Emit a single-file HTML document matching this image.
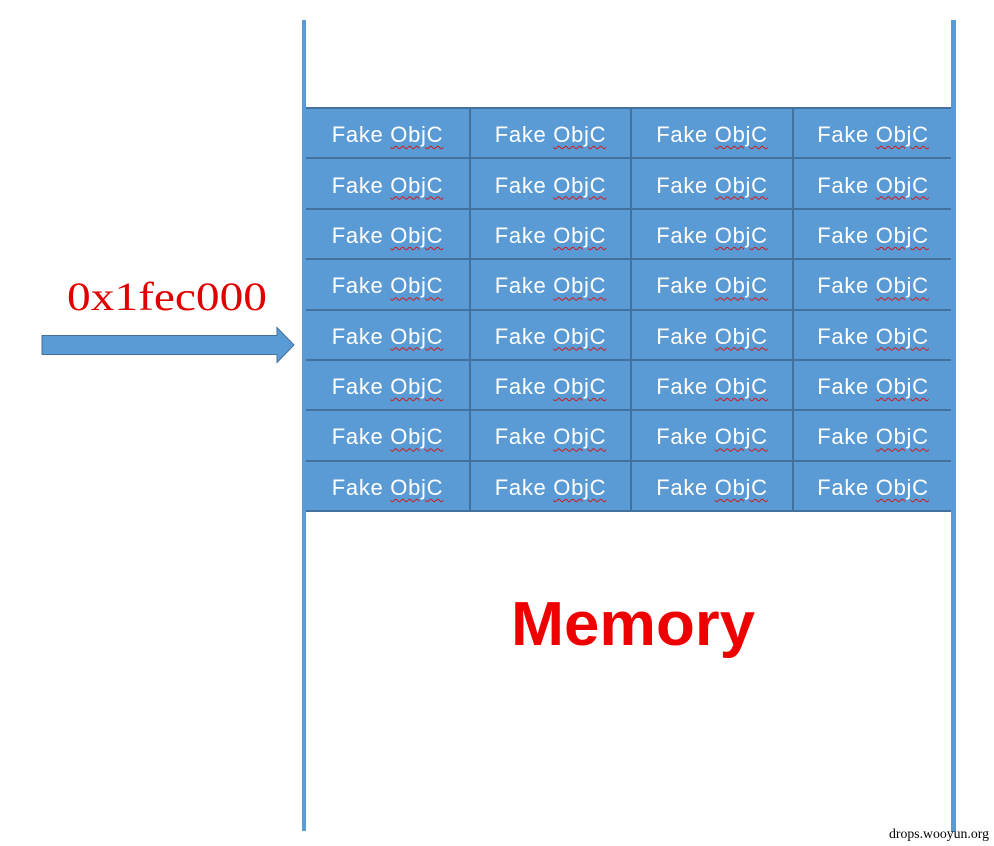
<!DOCTYPE html>
<html>
<head>
<meta charset="utf-8">
<style>
  html, body { margin:0; padding:0; background:#ffffff; }
  body { width:994px; height:846px; position:relative; overflow:hidden; }
  .vline { position:absolute; background:#5b9bd5; }
  .grid {
    position:absolute; left:306px; top:107px; width:646px; height:405px;
    background:#5b9bd5; box-sizing:border-box; border-top:2px solid #41719c;
    display:grid;
    grid-template-columns:163px 161px 162px 160px;
    grid-template-rows:repeat(8, 1fr);
  }
  .grid > div {
    box-sizing:border-box; border-bottom:2px solid #41719c;
    color:#ffffff; font-family:"Liberation Sans", sans-serif; font-size:22px;
    letter-spacing:0.7px;
    display:flex; align-items:center; justify-content:center;
    padding-top:4px; white-space:nowrap;
  }
  .grid > div:not(:nth-child(4n+1)) { border-left:2px solid #41719c; }
  .grid i { font-style:normal; }
  .grid b {
    font-weight:normal;
    text-decoration: underline wavy #d01818;
    text-decoration-thickness:1px;
    text-underline-offset:3px;
  }
</style>
</head>
<body>
<div class="grid">
  <div><i>Fake&nbsp;<b>ObjC</b></i></div><div><i>Fake&nbsp;<b>ObjC</b></i></div><div><i>Fake&nbsp;<b>ObjC</b></i></div><div><i>Fake&nbsp;<b>ObjC</b></i></div>
  <div><i>Fake&nbsp;<b>ObjC</b></i></div><div><i>Fake&nbsp;<b>ObjC</b></i></div><div><i>Fake&nbsp;<b>ObjC</b></i></div><div><i>Fake&nbsp;<b>ObjC</b></i></div>
  <div><i>Fake&nbsp;<b>ObjC</b></i></div><div><i>Fake&nbsp;<b>ObjC</b></i></div><div><i>Fake&nbsp;<b>ObjC</b></i></div><div><i>Fake&nbsp;<b>ObjC</b></i></div>
  <div><i>Fake&nbsp;<b>ObjC</b></i></div><div><i>Fake&nbsp;<b>ObjC</b></i></div><div><i>Fake&nbsp;<b>ObjC</b></i></div><div><i>Fake&nbsp;<b>ObjC</b></i></div>
  <div><i>Fake&nbsp;<b>ObjC</b></i></div><div><i>Fake&nbsp;<b>ObjC</b></i></div><div><i>Fake&nbsp;<b>ObjC</b></i></div><div><i>Fake&nbsp;<b>ObjC</b></i></div>
  <div><i>Fake&nbsp;<b>ObjC</b></i></div><div><i>Fake&nbsp;<b>ObjC</b></i></div><div><i>Fake&nbsp;<b>ObjC</b></i></div><div><i>Fake&nbsp;<b>ObjC</b></i></div>
  <div><i>Fake&nbsp;<b>ObjC</b></i></div><div><i>Fake&nbsp;<b>ObjC</b></i></div><div><i>Fake&nbsp;<b>ObjC</b></i></div><div><i>Fake&nbsp;<b>ObjC</b></i></div>
  <div><i>Fake&nbsp;<b>ObjC</b></i></div><div><i>Fake&nbsp;<b>ObjC</b></i></div><div><i>Fake&nbsp;<b>ObjC</b></i></div><div><i>Fake&nbsp;<b>ObjC</b></i></div>
</div>

<div class="vline" style="left:302px; top:20px; width:4px; height:811px;"></div>
<div class="vline" style="left:951px; top:20px; width:5px; height:812px;"></div>

<svg width="994" height="846" style="position:absolute; left:0; top:0;" xmlns="http://www.w3.org/2000/svg">
  <polygon points="42,335.5 277,335.5 277,327.5 294,345 277,362.5 277,354.5 42,354.5"
           fill="#5b9bd5" stroke="#41719c" stroke-width="1"/>
  <text x="67" y="310" font-family="Liberation Serif, serif" font-size="40" fill="#e00000"
        textLength="200" lengthAdjust="spacingAndGlyphs">0x1fec000</text>
  <text x="511" y="645" font-family="Liberation Sans, sans-serif" font-weight="bold" font-size="62" fill="#ee0000"
        textLength="244" lengthAdjust="spacingAndGlyphs">Memory</text>
  <text x="889" y="838" font-family="Liberation Serif, serif" font-size="13.5" fill="#000000"
        textLength="100" lengthAdjust="spacingAndGlyphs">drops.wooyun.org</text>
</svg>
</body>
</html>
